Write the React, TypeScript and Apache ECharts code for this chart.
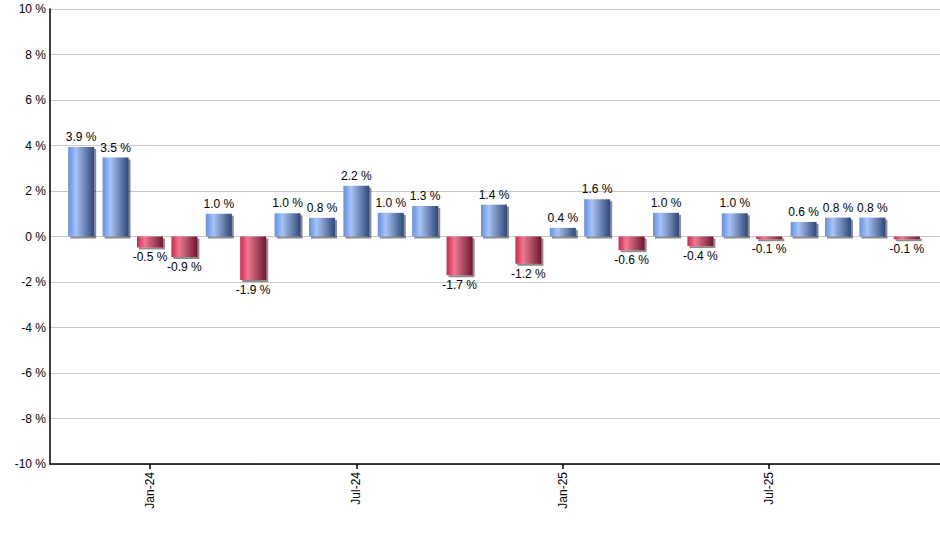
import React, { useEffect, useRef } from "react";
import * as echarts from "echarts";

const categories = [
  "Nov-23", "Dec-23", "Jan-24", "Feb-24", "Mar-24", "Apr-24", "May-24", "Jun-24",
  "Jul-24", "Aug-24", "Sep-24", "Oct-24", "Nov-24", "Dec-24", "Jan-25", "Feb-25",
  "Mar-25", "Apr-25", "May-25", "Jun-25", "Jul-25", "Aug-25", "Sep-25", "Oct-25", "Nov-25",
];
const values = [
  3.93, 3.47, -0.48, -0.9, 1.0, -1.91, 1.02, 0.82, 2.23, 1.04, 1.34, -1.7, 1.4,
  -1.2, 0.38, 1.64, -0.6, 1.04, -0.42, 1.02, -0.12, 0.64, 0.83, 0.83, -0.12,
];
const tickLabels = ["Jan-24", "Jul-24", "Jan-25", "Jul-25"];
const yTicks = { min: -10, max: 10, interval: 2 };

const FONT = "'Liberation Sans', Arial, sans-serif";

const blueGrad = {
  type: "linear", x: 0, y: 0, x2: 1, y2: 0,
  colorStops: [
    { offset: 0, color: "#6090e8" },
    { offset: 0.3, color: "#a8c4f4" },
    { offset: 1, color: "#304676" },
  ],
};
const redGrad = {
  type: "linear", x: 0, y: 0, x2: 1, y2: 0,
  colorStops: [
    { offset: 0, color: "#d8224c" },
    { offset: 0.3, color: "#ea7a90" },
    { offset: 1, color: "#6c1830" },
  ],
};

export default function App() {
  const ref = useRef<HTMLDivElement>(null);
  useEffect(() => {
    if (!ref.current) return;
    const chart = echarts.init(ref.current, null, { renderer: "svg" });
    const showTick = (i: number) => tickLabels.includes(categories[i]);
    chart.setOption({
      animation: false,
      textStyle: { fontFamily: FONT },
      grid: [
        { left: 50, right: 0, top: 9, bottom: 86 },
        { left: 64, right: 16, top: 9, bottom: 86 },
      ],
      xAxis: [
        {
          type: "value", gridIndex: 0, min: 0, max: 1,
          axisLine: { show: true, onZero: false, lineStyle: { color: "#000", width: 1.5 } },
          axisTick: { show: false }, axisLabel: { show: false }, splitLine: { show: false },
        },
        {
          type: "category", gridIndex: 1, data: categories,
          axisLine: { show: false, onZero: false },
          axisTick: {
            show: true, alignWithLabel: true, length: 5,
            interval: (i: number) => showTick(i),
            lineStyle: { color: "#000", width: 1.5 },
          },
          axisLabel: {
            rotate: 90, margin: 8, interval: (i: number) => showTick(i),
            color: "#000", fontSize: 12, fontFamily: FONT,
          },
          splitLine: { show: false },
        },
      ],
      yAxis: [
        {
          type: "value", gridIndex: 0, ...yTicks,
          axisLine: { show: true, lineStyle: { color: "#000", width: 1.5 } },
          axisTick: { show: false },
          axisLabel: { margin: 4, color: "#000", fontSize: 12, fontFamily: FONT, formatter: (v: number) => `${v} %` },
          splitLine: { show: true, lineStyle: { color: "#c8c8c8", width: 1 } },
        },
        {
          type: "value", gridIndex: 1, ...yTicks,
          axisLine: { show: false }, axisTick: { show: false }, axisLabel: { show: false }, splitLine: { show: false },
        },
      ],
      series: [
        {
          type: "bar", xAxisIndex: 1, yAxisIndex: 1, barWidth: 26,
          data: values.map((v) => ({
            value: v,
            itemStyle: { color: v >= 0 ? blueGrad : redGrad },
            label: { position: v >= 0 ? "top" : "bottom" },
          })),
          itemStyle: {
            shadowColor: "rgba(0,0,0,0.45)", shadowOffsetX: 2, shadowOffsetY: 2, shadowBlur: 1,
          },
          label: {
            show: true, distance: 4, color: "#000", fontSize: 12, fontFamily: FONT,
            formatter: (p: any) => `${Number(p.value).toFixed(1)} %`,
          },
        },
      ],
    });
    return () => chart.dispose();
  }, []);
  return <div ref={ref} style={{ position: "absolute", left: 0, top: 0, width: 940, height: 550 }} />;
}
